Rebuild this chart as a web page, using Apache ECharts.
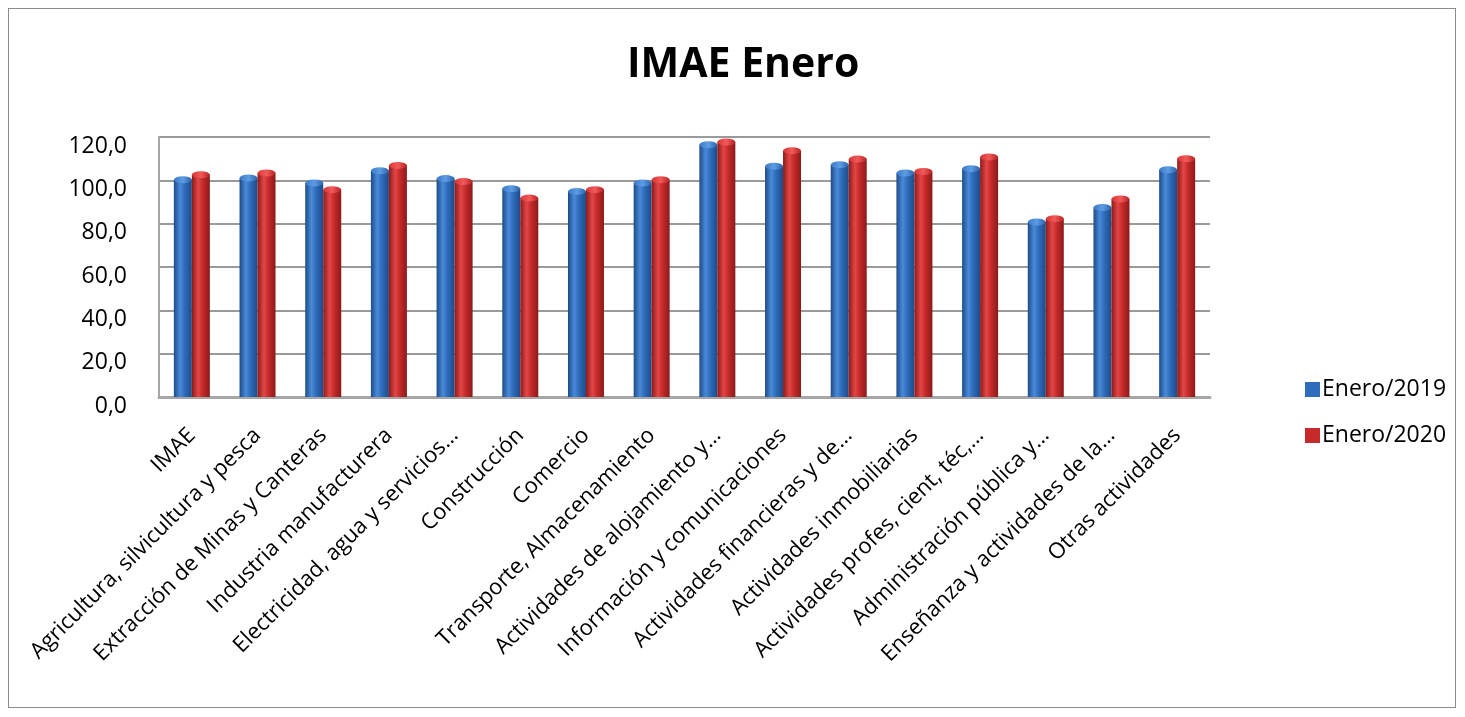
<!DOCTYPE html>
<html>
<head>
<meta charset="utf-8">
<script src="https://cdn.jsdelivr.net/npm/echarts@6/dist/echarts.min.js"></script>
<style>
  html, body { margin: 0; padding: 0; background: #fff; }
  #frame { position: absolute; left: 8px; top: 8px; width: 1448px; height: 700px; border: 1px solid #8c8c8c; box-sizing: border-box; }
  #chart { position: absolute; left: 0; top: 0; width: 1465px; height: 717px; }
</style>
</head>
<body>
<div id="frame"></div>
<div id="chart"></div>
<script>
const categories = [
  "IMAE",
  "Agricultura, silvicultura y pesca",
  "Extracción de Minas y Canteras",
  "Industria manufacturera",
  "Electricidad, agua y servicios…",
  "Construcción",
  "Comercio",
  "Transporte, Almacenamiento",
  "Actividades de alojamiento y…",
  "Información y comunicaciones",
  "Actividades financieras y de…",
  "Actividades inmobiliarias",
  "Actividades profes, cient, téc,…",
  "Administración pública y…",
  "Enseñanza y actividades de la…",
  "Otras actividades"
];
const enero2019 = [100.3, 101.1, 98.8, 104.4, 100.8, 96.1, 94.9, 98.8, 116.4, 106.5, 107.2, 103.4, 105.4, 80.8, 87.5, 104.9];
const enero2020 = [102.6, 103.4, 95.7, 106.9, 99.5, 91.8, 95.7, 100.3, 117.7, 113.7, 109.8, 104.1, 110.8, 82.3, 91.4, 110.0];
const yTicks = [0, 20, 40, 60, 80, 100, 120];

const FONT = "Open Sans";
const chart = echarts.init(document.getElementById('chart'));

function cyl(dark, mid, light) {
  return new echarts.graphic.LinearGradient(0, 0, 1, 0, [
    { offset: 0, color: dark },
    { offset: 0.35, color: light },
    { offset: 0.6, color: mid },
    { offset: 1, color: dark }
  ]);
}
const blueBody = cyl('#1d4b88', '#2f6cbb', '#4a8ad8');
const redBody = cyl('#8c1a1a', '#c62a2a', '#e24646');
const blueCap = new echarts.graphic.LinearGradient(0, 0, 1, 0, [
  { offset: 0, color: '#3a78c6' }, { offset: 0.5, color: '#5d9de4' }, { offset: 1, color: '#2c64aa' }]);
const redCap = new echarts.graphic.LinearGradient(0, 0, 1, 0, [
  { offset: 0, color: '#d63434' }, { offset: 0.5, color: '#f25a5a' }, { offset: 1, color: '#b82222' }]);

chart.setOption({
  animation: false,
  backgroundColor: 'transparent',
  title: {
    text: 'IMAE Enero',
    left: 622,
    top: 40,
    textStyle: { fontFamily: FONT, fontSize: 41, fontWeight: 'bold', color: '#000' }
  },
  legend: {
    orient: 'vertical',
    left: 1300,
    top: 373,
    itemGap: 23,
    itemWidth: 15,
    itemHeight: 15,
    icon: 'rect',
    data: [
      { name: 'Enero/2019', itemStyle: { color: '#2f6cbb' } },
      { name: 'Enero/2020', itemStyle: { color: '#c62a2a' } }
    ],
    textStyle: { fontFamily: FONT, fontSize: 23, color: '#000', padding: [0, 0, 0, -3] }
  },
  grid: { left: 159, right: 255, top: 137, bottom: 320, containLabel: false },
  xAxis: {
    type: 'category',
    data: categories,
    axisTick: { show: false },
    axisLine: { show: true, lineStyle: { color: '#a6a6a6', width: 3 } },
    axisLabel: {
      rotate: 45,
      interval: 0,
      margin: 35,
      fontFamily: FONT,
      fontSize: 22,
      color: '#000'
    }
  },
  yAxis: {
    type: 'value',
    min: 0,
    max: 120,
    interval: 20,
    axisLine: { show: true, lineStyle: { color: '#a6a6a6', width: 2 } },
    axisTick: { show: false },
    splitLine: { show: true, lineStyle: { color: '#9a9a9a', width: 2 } },
    axisLabel: {
      fontFamily: FONT,
      fontSize: 23,
      color: '#000',
      margin: 32,
      verticalAlign: 'top',
      lineHeight: 18,
      formatter: function (v) { return yTicks.indexOf(v) >= 0 ? v.toFixed(1).replace('.', ',') : ''; }
    }
  },
  series: [
    {
      name: 'Enero/2019', type: 'bar', data: enero2019,
      barWidth: 18, barGap: '0%',
      itemStyle: { color: blueBody }
    },
    {
      name: 'Enero/2020', type: 'bar', data: enero2020,
      barWidth: 18, barGap: '0%',
      itemStyle: { color: redBody }
    },
    {
      name: 'Enero/2019', type: 'pictorialBar', data: enero2019,
      symbol: 'circle', symbolSize: [18, 7], symbolPosition: 'end', symbolOffset: [0, '-50%'],
      barWidth: 18, barGap: '0%', z: 3,
      itemStyle: { color: blueCap }
    },
    {
      name: 'Enero/2020', type: 'pictorialBar', data: enero2020,
      symbol: 'circle', symbolSize: [18, 7], symbolPosition: 'end', symbolOffset: [0, '-50%'],
      barWidth: 18, barGap: '0%', z: 3,
      itemStyle: { color: redCap }
    }
  ]
});
</script>
</body>
</html>
